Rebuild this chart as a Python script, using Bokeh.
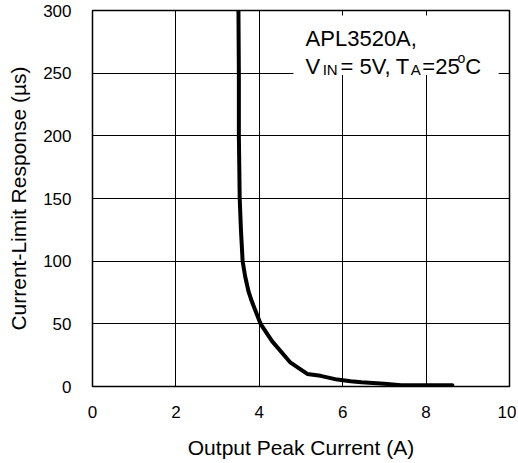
from bokeh.plotting import figure
from bokeh.models import Range1d, FixedTicker, Label, BoxAnnotation
from bokeh.embed import file_html
from bokeh.resources import INLINE

# data
current = [3.50, 3.51, 3.51, 3.53, 3.56, 3.60, 3.66, 3.74, 3.82, 4.03, 4.31,
           4.75, 5.15, 5.47, 5.87, 6.19, 6.45, 7.00, 7.40, 8.00, 8.63]
response = [300, 250, 200, 150, 125, 100, 88, 76, 68, 50, 36,
            19, 10, 8.5, 5.5, 4.2, 3.4, 2.2, 1.0, 1.0, 1.0]
x_ticks = [0, 2, 4, 6, 8, 10]
y_ticks = [0, 50, 100, 150, 200, 250, 300]

FONT = "Liberation Sans"

p = figure(width=516, height=462, output_backend="svg", toolbar_location=None,
           x_range=Range1d(0, 10), y_range=Range1d(0, 300),
           min_border_left=92, min_border_right=7, min_border_top=10,
           min_border_bottom=76)

p.outline_line_color = "black"
p.outline_line_width = 1.5
p.background_fill_color = "white"
p.border_fill_color = "white"

p.xaxis.ticker = FixedTicker(ticks=x_ticks)
p.yaxis.ticker = FixedTicker(ticks=y_ticks)
for ax in (p.xaxis[0], p.yaxis[0]):
    ax.axis_line_color = None
    ax.major_tick_line_color = None
    ax.minor_tick_line_color = None
    ax.major_label_text_font = FONT
    ax.major_label_text_font_size = "17px"
    ax.major_label_text_color = "black"
    ax.axis_label_text_font = FONT
    ax.axis_label_text_font_size = "21px"
    ax.axis_label_text_font_style = "normal"
    ax.axis_label_text_color = "black"

p.xaxis.axis_label = "Output Peak Current (A)"
p.yaxis.axis_label = "Current-Limit Response (\u00b5s)"
p.xaxis.major_label_standoff = 13
p.xaxis.axis_label_standoff = 15
p.yaxis.major_label_standoff = 15
p.yaxis.axis_label_standoff = 10

p.xgrid.grid_line_color = "black"
p.ygrid.grid_line_color = "black"
p.xgrid.grid_line_width = 1
p.ygrid.grid_line_width = 1
p.xgrid.grid_line_alpha = 1
p.ygrid.grid_line_alpha = 1

p.line(current, response, line_color="black", line_width=4, line_join="round",
       line_cap="round")

# white box behind annotation text
p.add_layout(BoxAnnotation(left=4.82, right=9.74, bottom=248.5, top=296.0,
                           fill_color="white", fill_alpha=1, line_color=None,
                           level="overlay"))

def lab(x, y, t, size):
    p.add_layout(Label(x=x, y=y, text=t, text_font=FONT, text_font_size=size,
                       text_color="black", text_align="left",
                       text_baseline="alphabetic", level="overlay"))

lab(5.11, 277.4, "APL3520A,", "22px")
lab(5.11, 255.3, "V", "22px")
lab(5.52, 252.9, "IN", "15px")
lab(5.95, 255.3, "= 5V,", "22px")
lab(7.27, 255.3, "T", "22px")
lab(7.63, 252.9, "A", "15px")
lab(7.91, 255.3, "=25", "22px")
lab(8.75, 262.5, "o", "14px")
lab(8.94, 255.3, "C", "22px")

open("out.html", "w").write(file_html(p, INLINE))
